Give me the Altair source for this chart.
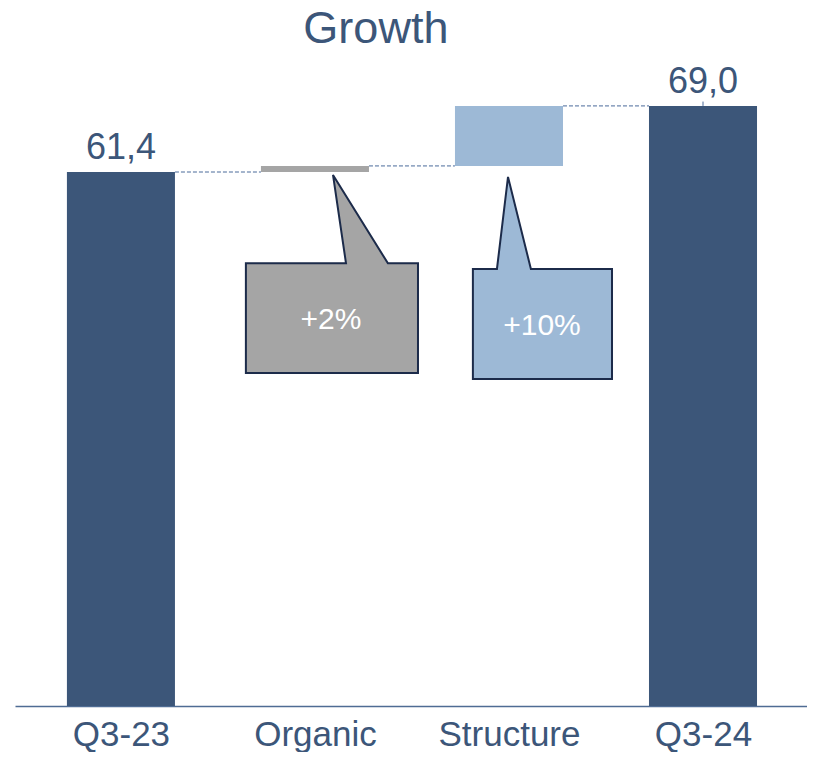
import altair as alt
import pandas as pd

# ---- data ----
categories = ["Q3-23", "Organic", "Structure", "Q3-24"]
values = [61.4, 0.7, 6.9, 69.0]
kinds = ["total", "delta", "delta", "total"]
bar_colors = ["#3c5679", "#a5a5a5", "#9db9d6", "#3c5679"]

callout_cats = ["Organic", "Structure"]
callout_texts = ["+2%", "+10%"]
callout_fills = ["#a5a5a5", "#9db9d6"]
# callout geometry (offsets in category units from the bar centre, levels in value units)
box_left = [-0.356, -0.186]
box_right = [0.531, 0.531]
box_top = [50.9, 50.25]
box_bottom = [38.3, 37.6]
ptr_left = [0.160, -0.062]
ptr_right = [0.376, 0.113]
ptr_tip_x = [0.093, -0.005]
ptr_tip_y = [61.06, 60.83]
text_dx = [0.082, 0.170]
text_y = [44.4, 43.7]

title_text = "Growth"
title_x = 1.314

FONT = "Liberation Sans, Arial, Helvetica, sans-serif"
NAVY = "#3c5679"
HALF = 0.2784

# ---- waterfall table ----
rows = []
running = 0.0
for i, (c, v, k) in enumerate(zip(categories, values, kinds)):
    if k == "total":
        start, end = 0.0, v
        running = v
    else:
        start, end = running, running + v
        running = end
    rows.append(dict(cat=c, idx=i, start=start, end=end, x0=i - HALF, x1=i + HALF,
                     label=(f"{v:.1f}".replace(".", ",") if k == "total" else "")))
bars = pd.DataFrame(rows)

conn = pd.DataFrame([
    dict(x0=rows[i]["x1"], x1=rows[i + 1]["x0"], y=rows[i]["end"]) for i in range(len(rows) - 1)
])

poly = []
texts = []
for j, c in enumerate(callout_cats):
    ci = categories.index(c)
    pts = [
        (ci + box_left[j], box_top[j]),
        (ci + ptr_left[j], box_top[j]),
        (ci + ptr_tip_x[j], ptr_tip_y[j]),
        (ci + ptr_right[j], box_top[j]),
        (ci + box_right[j], box_top[j]),
        (ci + box_right[j], box_bottom[j]),
        (ci + box_left[j], box_bottom[j]),
    ]
    for k, (px, py) in enumerate(pts):
        poly.append(dict(callout=c, order=k, x=px, y=py))
    texts.append(dict(callout=c, x=ci + text_dx[j], y=text_y[j], text=callout_texts[j]))
poly = pd.DataFrame(poly)
texts = pd.DataFrame(texts)

xscale = alt.Scale(domain=[-0.546, 3.536], nice=False, zero=False)
yscale = alt.Scale(domain=[0, 74.28], nice=False)

label_expr = "[" + ",".join(f"'{c}'" for c in categories) + "][datum.value]"

base_bars = alt.Chart(bars).mark_rect().encode(
    x=alt.X("x0:Q", scale=xscale,
            axis=alt.Axis(values=[0, 1, 2, 3], labelExpr=label_expr, title=None, grid=False,
                          ticks=False, labelFont=FONT, labelFontSize=35, labelColor=NAVY,
                          labelBaseline="alphabetic", labelPadding=39, domainColor="#4f6c94",
                          domainWidth=1.5, labelFlush=False)),
    x2="x1:Q",
    y=alt.Y("start:Q", scale=yscale, axis=None),
    y2="end:Q",
    color=alt.Color("cat:N", scale=alt.Scale(domain=categories, range=bar_colors), legend=None),
)

value_labels = alt.Chart(bars).mark_text(
    font=FONT, fontSize=36, color=NAVY, baseline="alphabetic", dy=-13
).encode(x=alt.X("idx:Q", scale=xscale), y=alt.Y("end:Q", scale=yscale), text="label:N")

connectors = alt.Chart(conn).mark_rule(color="#4a6a9a", strokeWidth=1, strokeDash=[4, 2]).encode(
    x=alt.X("x0:Q", scale=xscale), x2="x1:Q", y=alt.Y("y:Q", scale=yscale)
)

leader = alt.Chart(bars[bars["cat"] == "Q3-24"]).transform_calculate(
    top="datum.end + 0.5"
).mark_rule(color="#4a6a9a", strokeWidth=1).encode(
    x=alt.X("idx:Q", scale=xscale), y=alt.Y("end:Q", scale=yscale), y2="top:Q"
)

callouts = alt.Chart(poly).mark_line(
    interpolate="linear-closed", stroke="#1c2b4a", strokeWidth=2, strokeJoin="miter"
).encode(
    x=alt.X("x:Q", scale=xscale), y=alt.Y("y:Q", scale=yscale),
    fill=alt.Fill("callout:N", scale=alt.Scale(domain=callout_cats, range=callout_fills), legend=None),
    detail="callout:N",
    order="order:Q",
)

callout_text = alt.Chart(texts).mark_text(
    font=FONT, fontSize=30, color="white", baseline="middle", align="center"
).encode(x=alt.X("x:Q", scale=xscale), y=alt.Y("y:Q", scale=yscale), text="text:N")

title = alt.Chart(pd.DataFrame({"x": [title_x], "t": [title_text]})).mark_text(
    font=FONT, fontSize=45, color=NAVY, baseline="alphabetic", align="center"
).encode(x=alt.X("x:Q", scale=xscale), y=alt.value(-17), text="t:N")

chart = alt.layer(base_bars, connectors, leader, value_labels, callouts, callout_text, title).properties(
    width=792, height=646,
    autosize=alt.AutoSizeParams(type="none"),
    padding={"left": 7, "top": 52, "right": 0, "bottom": 46},
).configure_view(stroke=None)

chart.save("out.html", embed_options={"renderer": "svg", "actions": False})
